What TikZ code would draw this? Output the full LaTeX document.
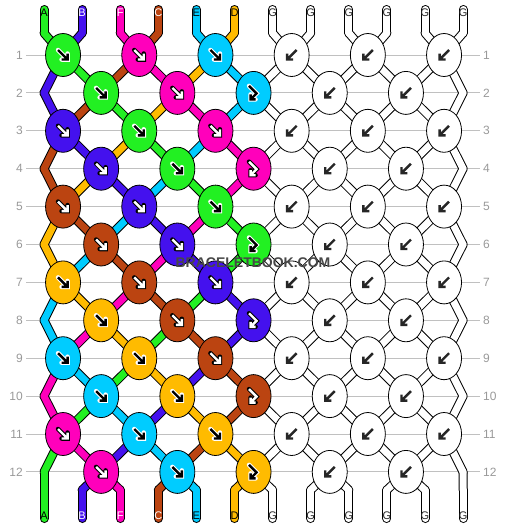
\documentclass[tikz,border=0pt]{standalone}
\usepackage{fontspec}
\setmainfont{Liberation Sans}
\usetikzlibrary{shapes.geometric, backgrounds}
\definecolor{strA}{HTML}{22F022}
\definecolor{strB}{HTML}{4411EE}
\definecolor{strF}{HTML}{FF00BB}
\definecolor{strC}{HTML}{BB4411}
\definecolor{strE}{HTML}{00CCFF}
\definecolor{strD}{HTML}{FFBB00}
\definecolor{strG}{HTML}{FFFFFF}
\colorlet{arrA}{black}
\colorlet{arrB}{white}
\colorlet{arrF}{white}
\colorlet{arrC}{white}
\colorlet{arrE}{black}
\colorlet{arrD}{black}
\colorlet{arrG}{black!85}
\colorlet{rimA}{white}
\colorlet{rimB}{black}
\colorlet{rimF}{black}
\colorlet{rimC}{black}
\colorlet{rimE}{white}
\colorlet{rimD}{white}
\colorlet{rimG}{white}
\definecolor{rowgrey}{HTML}{999999}
\definecolor{linegrey}{HTML}{C0C0C0}
% one pass over all strand pieces, #1 = style (rim or fill)
\newcommand{\strandpass}[1]
{
	\foreach \r/\ord in {0/{A,B,F,C,E,D,G,G,G,G,G,G}, 1/{B,A,C,F,D,E,G,G,G,G,G,G},
		2/{B,C,A,D,F,E,G,G,G,G,G,G}, 3/{C,B,D,A,E,F,G,G,G,G,G,G},
		4/{C,D,B,E,A,F,G,G,G,G,G,G}, 5/{D,C,E,B,F,A,G,G,G,G,G,G},
		6/{D,E,C,F,B,A,G,G,G,G,G,G}, 7/{E,D,F,C,A,B,G,G,G,G,G,G},
		8/{E,F,D,A,C,B,G,G,G,G,G,G}, 9/{F,E,A,D,B,C,G,G,G,G,G,G},
		10/{F,A,E,B,D,C,G,G,G,G,G,G}, 11/{A,F,B,E,C,D,G,G,G,G,G,G},
		12/{A,B,F,C,E,D,G,G,G,G,G,G}}{
		\pgfmathtruncatemacro{\rr}{\r+1}
		\foreach \c [count=\p from 0] in \ord
			\draw[#1=\c] (h-\r-\p.center) -- (h-\rr-\p.center);
	}
	\foreach \c [count=\p from 0] in {A,B,F,C,E,D,G,G,G,G,G,G}{
		\draw[#1=\c] (tt-\p) -- (h-0-\p.center);
		\draw[#1=\c] (h-13-\p.center) -- (bb-\p);
	}
}
\tikzset{
	symrim/.style={draw=rim#1, line width=4.5pt, line cap=round},
	symcore/.style={draw=arr#1, line width=2.4pt},
	pics/fsym/.style={code={
		\draw[symrim=#1] (-5,-5) -- (4.5,4.5) (4.5,-1.5) -- (4.5,4.5) -- (-1.5,4.5);
		\draw[symcore=#1] (-5,-5) -- (4.5,4.5) (4.5,-1.5) -- (4.5,4.5) -- (-1.5,4.5);
	}},
	pics/bsym/.style={code={
		\draw[symrim=#1] (5,-5) -- (-4.5,4.5) (-4.5,-1.5) -- (-4.5,4.5) -- (1.5,4.5);
		\draw[symcore=#1] (5,-5) -- (-4.5,4.5) (-4.5,-1.5) -- (-4.5,4.5) -- (1.5,4.5);
	}},
	pics/fbsym/.style={code={
		\draw[symrim=#1] (-4.5,-7) -- (3,0.5) -- (-3,6.5) (-3,1.5) -- (-3,6.5) -- (2,6.5);
		\draw[symcore=#1] (-4.5,-7) -- (3,0.5) -- (-3,6.5) (-3,1.5) -- (-3,6.5) -- (2,6.5);
	}}
}

\begin{document}
\begin{tikzpicture}[x=1pt, y=-1pt,
	knot/.style={ellipse, draw=black, line width=0.8pt, minimum width=35pt,
		minimum height=43pt, inner sep=0pt},
	strandrim/.style={draw=black, line width=9pt, line cap=round},
	strandfill/.style={draw=str#1, line width=7pt, line cap=round},
	rowlabel/.style={font=\fontsize{12}{12}\selectfont, text=rowgrey, inner sep=3pt},
	rowline/.style={draw=linegrey, line width=0.9pt},
	tailletter/.style={font=\fontsize{11}{11}\selectfont, inner sep=0pt},
	watermark/.style={font=\bfseries\fontsize{14}{14}\selectfont, text=black!72, inner sep=1pt}]

	\useasboundingbox (0,0) rectangle (506,528);

	% row numbers
	\foreach \r in {1,...,12}{
		\pgfmathsetmacro{\ry}{55+37.9*(\r-1)}
		\node[rowlabel, anchor=east] (ll-\r) at (26,\ry) {\r};
		\node[rowlabel, anchor=west] (rl-\r) at (480,\ry) {\r};
	}

	% string ends and their letters
	\foreach \c [count=\p from 0] in {A,B,F,C,E,D,G,G,G,G,G,G}{
		\pgfmathsetmacro{\tx}{44+38.1*\p}
		\node[tailletter, text=arr\c] (tl-\p) at (\tx,12.5) {\c};
		\node[tailletter, text=arr\c] (bl-\p) at (\tx,516) {\c};
		\coordinate (tt-\p) at (\tx,9.5);
		\coordinate (h-0-\p) at (\tx,33);
		\coordinate (h-13-\p) at (\tx,490);
		\coordinate (bb-\p) at (\tx,518.5);
	}

	% knots, row by row
	\foreach \r/\la/\lb/\lc in {1/A/F/E, 2/A/F/E, 3/B/A/F, 4/B/A/F, 5/C/B/A, 6/C/B/A,
		7/D/C/B, 8/D/C/B, 9/E/D/C, 10/E/D/C, 11/F/E/D, 12/F/E/D}{
		\pgfmathsetmacro{\ky}{55+37.9*(\r-1)}
		\ifodd\r\relax
			\foreach \j/\l/\t in {0/\la/fsym, 1/\lb/fsym, 2/\lc/fsym, 3/G/bsym, 4/G/bsym, 5/G/bsym}{
				\pgfmathsetmacro{\kx}{44+38.1*(2*\j+0.5)}
				\pgfmathtruncatemacro{\pa}{2*\j}
				\pgfmathtruncatemacro{\pb}{2*\j+1}
				\edef\knotcmd{\noexpand\node[knot, fill=str\l, alias=h-\r-\pa, alias=h-\r-\pb]
					(k-\r-\j) at (\kx,\ky) {}; \noexpand\pic at (k-\r-\j) {\t=\l};}
				\knotcmd
			}
		\else
			\foreach \j/\l/\t in {0/\la/fsym, 1/\lb/fsym, 2/\lc/fbsym, 3/G/bsym, 4/G/bsym}{
				\pgfmathsetmacro{\kx}{44+38.1*(2*\j+1.5)}
				\pgfmathtruncatemacro{\pa}{2*\j+1}
				\pgfmathtruncatemacro{\pb}{2*\j+2}
				\edef\knotcmd{\noexpand\node[knot, fill=str\l, alias=h-\r-\pa, alias=h-\r-\pb]
					(k-\r-\j) at (\kx,\ky) {}; \noexpand\pic at (k-\r-\j) {\t=\l};}
				\knotcmd
			}
			\coordinate (h-\r-0) at (44,\ky);
			\coordinate (h-\r-11) at (463.1,\ky);
		\fi
	}

	\begin{pgfonlayer}{background}
	\foreach \r in {1,...,12}
		\draw[rowline] (ll-\r) -- (rl-\r);
	\strandpass{strandrim}
	\strandpass{strandfill}
	\end{pgfonlayer}

	\node[watermark] (wm) at (253,263) {BRACELETBOOK.COM};
\end{tikzpicture}
\end{document}
